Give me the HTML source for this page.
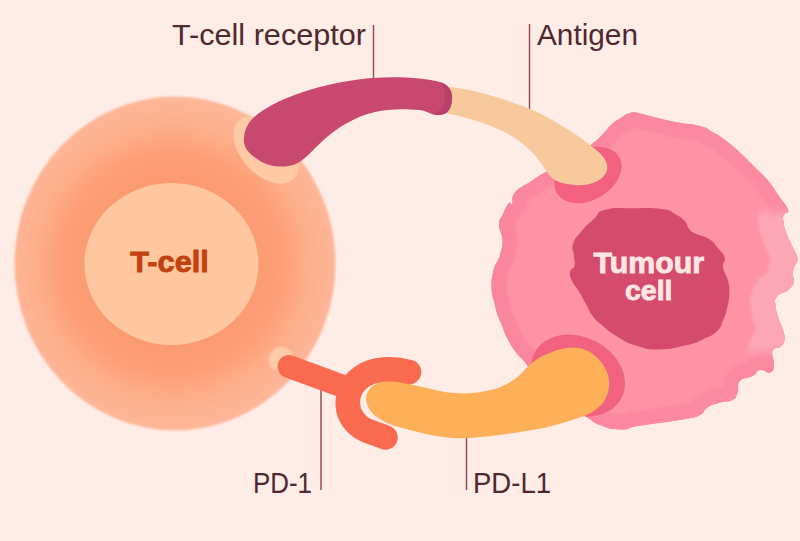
<!DOCTYPE html>
<html>
<head>
<meta charset="utf-8">
<title>T-cell and tumour cell</title>
<style>
html,body{margin:0;padding:0;background:#feece7;}
body{width:800px;height:541px;overflow:hidden;font-family:"Liberation Sans",sans-serif;}
svg{display:block;}
text{font-family:"Liberation Sans",sans-serif;}
</style>
</head>
<body>
<svg width="800" height="541" viewBox="0 0 800 541">
<defs>
  <radialGradient id="tg" cx="172" cy="263.5" r="166" gradientUnits="userSpaceOnUse">
    <stop offset="0.50" stop-color="#fc9b71"/>
    <stop offset="0.66" stop-color="#fd9f77"/>
    <stop offset="0.80" stop-color="#feac88"/>
    <stop offset="0.92" stop-color="#feb393"/>
    <stop offset="1" stop-color="#feb798"/>
  </radialGradient>
  <filter id="b1" x="-10%" y="-10%" width="120%" height="120%"><feGaussianBlur stdDeviation="1"/></filter>
  <linearGradient id="rimg" x1="490" y1="0" x2="800" y2="0" gradientUnits="userSpaceOnUse">
    <stop offset="0" stop-color="#fa869c"/>
    <stop offset="1" stop-color="#fb8aa0"/>
  </linearGradient>
  <mask id="rm" maskUnits="userSpaceOnUse" x="700" y="150" width="120" height="260"><rect x="745" y="212" width="70" height="140" fill="#fff" filter="url(#b5)"/></mask>
  <filter id="b5" x="-30%" y="-30%" width="160%" height="160%"><feGaussianBlur stdDeviation="5"/></filter>
  <filter id="b2" x="-10%" y="-10%" width="120%" height="120%"><feGaussianBlur stdDeviation="1.5"/></filter>
  <filter id="b3" x="-10%" y="-10%" width="120%" height="120%"><feGaussianBlur stdDeviation="3"/></filter>
  <clipPath id="tumclip"><path d="M592.0,144.0 C600.8,137.1 597.7,139.3 603.0,134.0 C608.3,128.7 607.5,128.1 612.0,124.0 C616.5,119.9 615.2,121.4 620.0,118.5 C624.8,115.6 624.7,114.3 630.0,113.0 C635.3,111.7 634.7,112.7 640.0,113.5 C645.3,114.3 640.7,113.7 650.0,116.0 C659.3,118.3 661.7,119.3 675.0,122.0 C688.3,124.7 690.0,123.3 700.0,126.0 C710.0,128.7 705.8,128.3 712.5,132.0 C719.2,135.7 717.7,134.5 725.0,140.0 C732.3,145.5 732.0,145.2 740.0,152.5 C748.0,159.8 747.6,160.2 755.0,167.5 C762.4,174.8 761.3,172.5 767.6,180.0 C773.9,187.5 773.2,187.8 778.6,195.7 C784.0,203.6 786.5,204.5 788.0,209.5 C789.5,214.5 785.6,211.6 784.3,214.6 C783.0,217.6 782.7,215.9 783.3,220.9 C783.9,225.9 784.0,226.4 786.5,233.5 C789.0,240.6 789.9,240.9 792.8,247.6 C795.7,254.3 797.1,253.6 797.5,258.6 C797.9,263.6 795.6,262.3 794.3,266.5 C793.0,270.7 793.0,270.1 792.8,274.3 C792.6,278.5 795.0,278.0 793.7,282.2 C792.4,286.4 792.5,286.2 788.0,290.0 C783.5,293.8 780.3,292.2 777.0,296.4 C773.7,300.6 775.1,299.9 775.5,305.8 C775.9,311.7 776.5,311.7 778.6,318.4 C780.7,325.1 781.8,325.0 783.3,330.9 C784.8,336.8 785.1,336.2 784.3,340.4 C783.5,344.6 783.3,343.9 780.2,346.7 C777.1,349.5 774.2,346.1 772.5,351.0 C770.8,355.9 774.7,359.3 774.0,365.0 C773.3,370.7 773.7,371.2 770.0,372.5 C766.3,373.8 764.7,369.1 760.0,370.0 C755.3,370.9 757.8,373.1 752.5,376.0 C747.2,378.9 744.0,376.6 740.0,381.0 C736.0,385.4 739.5,387.4 737.5,392.5 C735.5,397.6 737.2,397.3 732.5,400.0 C727.8,402.7 726.7,400.5 720.0,402.5 C713.3,404.5 712.8,404.2 707.5,407.5 C702.2,410.8 706.0,411.9 700.0,415.0 C694.0,418.1 695.0,417.0 685.0,419.0 C675.0,421.0 675.2,420.6 662.5,422.5 C649.8,424.4 648.8,424.1 637.5,426.0 C626.2,427.9 630.0,429.8 620.0,429.5 C610.0,429.2 609.3,428.6 600.0,425.0 C590.7,421.4 595.7,422.7 585.0,416.0 C574.3,409.3 573.3,410.9 560.0,400.0 C546.7,389.1 544.6,385.4 535.0,375.0 C525.4,364.6 528.8,366.7 524.0,361.0 C519.2,355.3 521.4,359.7 517.0,353.8 C512.6,347.8 511.5,346.3 507.5,338.8 C503.5,331.2 504.5,331.7 502.0,325.6 C499.5,319.5 500.0,322.0 498.0,316.0 C496.0,310.0 496.1,310.5 494.4,303.0 C492.7,295.5 491.9,296.5 491.6,288.0 C491.3,279.5 491.7,278.5 493.4,271.0 C495.1,263.5 496.2,264.3 498.0,260.0 C499.8,255.7 498.8,260.3 500.0,255.0 C501.2,249.7 502.8,248.0 502.5,240.0 C502.2,232.0 499.0,231.7 499.0,225.0 C499.0,218.3 499.8,220.9 502.5,215.0 C505.2,209.1 506.5,205.9 509.0,203.0 C511.5,200.1 510.4,206.8 512.0,204.0 C513.6,201.2 510.2,198.4 515.0,192.5 C519.8,186.6 522.0,187.3 530.0,182.0 C538.0,176.7 534.3,178.4 545.0,172.5 C555.7,166.6 557.5,167.6 570.0,160.0 C582.5,152.4 583.2,150.9 592.0,144.0 Z"/></clipPath>
</defs>
<rect width="800" height="541" fill="#feece7"/>

<!-- T cell -->
<ellipse cx="175" cy="263.5" rx="160.5" ry="167" fill="url(#tg)" filter="url(#b1)"/>
<ellipse cx="266" cy="150" rx="40" ry="24.5" transform="rotate(47 266 150)" fill="#fecaa5"/>
<circle cx="281.5" cy="359.5" r="12.5" fill="#fecba9" filter="url(#b1)"/>
<ellipse cx="171.5" cy="264" rx="87" ry="81" fill="#fec7a0"/>
<text x="130.3" y="271.8" font-size="29.3" font-weight="bold" fill="#c2410f" stroke="#c2410f" stroke-width="0.8" textLength="78.5" lengthAdjust="spacingAndGlyphs">T-cell</text>

<!-- Tumour cell -->
<path d="M592.0,144.0 C600.8,137.1 597.7,139.3 603.0,134.0 C608.3,128.7 607.5,128.1 612.0,124.0 C616.5,119.9 615.2,121.4 620.0,118.5 C624.8,115.6 624.7,114.3 630.0,113.0 C635.3,111.7 634.7,112.7 640.0,113.5 C645.3,114.3 640.7,113.7 650.0,116.0 C659.3,118.3 661.7,119.3 675.0,122.0 C688.3,124.7 690.0,123.3 700.0,126.0 C710.0,128.7 705.8,128.3 712.5,132.0 C719.2,135.7 717.7,134.5 725.0,140.0 C732.3,145.5 732.0,145.2 740.0,152.5 C748.0,159.8 747.6,160.2 755.0,167.5 C762.4,174.8 761.3,172.5 767.6,180.0 C773.9,187.5 773.2,187.8 778.6,195.7 C784.0,203.6 786.5,204.5 788.0,209.5 C789.5,214.5 785.6,211.6 784.3,214.6 C783.0,217.6 782.7,215.9 783.3,220.9 C783.9,225.9 784.0,226.4 786.5,233.5 C789.0,240.6 789.9,240.9 792.8,247.6 C795.7,254.3 797.1,253.6 797.5,258.6 C797.9,263.6 795.6,262.3 794.3,266.5 C793.0,270.7 793.0,270.1 792.8,274.3 C792.6,278.5 795.0,278.0 793.7,282.2 C792.4,286.4 792.5,286.2 788.0,290.0 C783.5,293.8 780.3,292.2 777.0,296.4 C773.7,300.6 775.1,299.9 775.5,305.8 C775.9,311.7 776.5,311.7 778.6,318.4 C780.7,325.1 781.8,325.0 783.3,330.9 C784.8,336.8 785.1,336.2 784.3,340.4 C783.5,344.6 783.3,343.9 780.2,346.7 C777.1,349.5 774.2,346.1 772.5,351.0 C770.8,355.9 774.7,359.3 774.0,365.0 C773.3,370.7 773.7,371.2 770.0,372.5 C766.3,373.8 764.7,369.1 760.0,370.0 C755.3,370.9 757.8,373.1 752.5,376.0 C747.2,378.9 744.0,376.6 740.0,381.0 C736.0,385.4 739.5,387.4 737.5,392.5 C735.5,397.6 737.2,397.3 732.5,400.0 C727.8,402.7 726.7,400.5 720.0,402.5 C713.3,404.5 712.8,404.2 707.5,407.5 C702.2,410.8 706.0,411.9 700.0,415.0 C694.0,418.1 695.0,417.0 685.0,419.0 C675.0,421.0 675.2,420.6 662.5,422.5 C649.8,424.4 648.8,424.1 637.5,426.0 C626.2,427.9 630.0,429.8 620.0,429.5 C610.0,429.2 609.3,428.6 600.0,425.0 C590.7,421.4 595.7,422.7 585.0,416.0 C574.3,409.3 573.3,410.9 560.0,400.0 C546.7,389.1 544.6,385.4 535.0,375.0 C525.4,364.6 528.8,366.7 524.0,361.0 C519.2,355.3 521.4,359.7 517.0,353.8 C512.6,347.8 511.5,346.3 507.5,338.8 C503.5,331.2 504.5,331.7 502.0,325.6 C499.5,319.5 500.0,322.0 498.0,316.0 C496.0,310.0 496.1,310.5 494.4,303.0 C492.7,295.5 491.9,296.5 491.6,288.0 C491.3,279.5 491.7,278.5 493.4,271.0 C495.1,263.5 496.2,264.3 498.0,260.0 C499.8,255.7 498.8,260.3 500.0,255.0 C501.2,249.7 502.8,248.0 502.5,240.0 C502.2,232.0 499.0,231.7 499.0,225.0 C499.0,218.3 499.8,220.9 502.5,215.0 C505.2,209.1 506.5,205.9 509.0,203.0 C511.5,200.1 510.4,206.8 512.0,204.0 C513.6,201.2 510.2,198.4 515.0,192.5 C519.8,186.6 522.0,187.3 530.0,182.0 C538.0,176.7 534.3,178.4 545.0,172.5 C555.7,166.6 557.5,167.6 570.0,160.0 C582.5,152.4 583.2,150.9 592.0,144.0 Z" fill="#fe93a4"/>
<g clip-path="url(#tumclip)">
  <path d="M592.0,144.0 C600.8,137.1 597.7,139.3 603.0,134.0 C608.3,128.7 607.5,128.1 612.0,124.0 C616.5,119.9 615.2,121.4 620.0,118.5 C624.8,115.6 624.7,114.3 630.0,113.0 C635.3,111.7 634.7,112.7 640.0,113.5 C645.3,114.3 640.7,113.7 650.0,116.0 C659.3,118.3 661.7,119.3 675.0,122.0 C688.3,124.7 690.0,123.3 700.0,126.0 C710.0,128.7 705.8,128.3 712.5,132.0 C719.2,135.7 717.7,134.5 725.0,140.0 C732.3,145.5 732.0,145.2 740.0,152.5 C748.0,159.8 747.6,160.2 755.0,167.5 C762.4,174.8 761.3,172.5 767.6,180.0 C773.9,187.5 773.2,187.8 778.6,195.7 C784.0,203.6 786.5,204.5 788.0,209.5 C789.5,214.5 785.6,211.6 784.3,214.6 C783.0,217.6 782.7,215.9 783.3,220.9 C783.9,225.9 784.0,226.4 786.5,233.5 C789.0,240.6 789.9,240.9 792.8,247.6 C795.7,254.3 797.1,253.6 797.5,258.6 C797.9,263.6 795.6,262.3 794.3,266.5 C793.0,270.7 793.0,270.1 792.8,274.3 C792.6,278.5 795.0,278.0 793.7,282.2 C792.4,286.4 792.5,286.2 788.0,290.0 C783.5,293.8 780.3,292.2 777.0,296.4 C773.7,300.6 775.1,299.9 775.5,305.8 C775.9,311.7 776.5,311.7 778.6,318.4 C780.7,325.1 781.8,325.0 783.3,330.9 C784.8,336.8 785.1,336.2 784.3,340.4 C783.5,344.6 783.3,343.9 780.2,346.7 C777.1,349.5 774.2,346.1 772.5,351.0 C770.8,355.9 774.7,359.3 774.0,365.0 C773.3,370.7 773.7,371.2 770.0,372.5 C766.3,373.8 764.7,369.1 760.0,370.0 C755.3,370.9 757.8,373.1 752.5,376.0 C747.2,378.9 744.0,376.6 740.0,381.0 C736.0,385.4 739.5,387.4 737.5,392.5 C735.5,397.6 737.2,397.3 732.5,400.0 C727.8,402.7 726.7,400.5 720.0,402.5 C713.3,404.5 712.8,404.2 707.5,407.5 C702.2,410.8 706.0,411.9 700.0,415.0 C694.0,418.1 695.0,417.0 685.0,419.0 C675.0,421.0 675.2,420.6 662.5,422.5 C649.8,424.4 648.8,424.1 637.5,426.0 C626.2,427.9 630.0,429.8 620.0,429.5 C610.0,429.2 609.3,428.6 600.0,425.0 C590.7,421.4 595.7,422.7 585.0,416.0 C574.3,409.3 573.3,410.9 560.0,400.0 C546.7,389.1 544.6,385.4 535.0,375.0 C525.4,364.6 528.8,366.7 524.0,361.0 C519.2,355.3 521.4,359.7 517.0,353.8 C512.6,347.8 511.5,346.3 507.5,338.8 C503.5,331.2 504.5,331.7 502.0,325.6 C499.5,319.5 500.0,322.0 498.0,316.0 C496.0,310.0 496.1,310.5 494.4,303.0 C492.7,295.5 491.9,296.5 491.6,288.0 C491.3,279.5 491.7,278.5 493.4,271.0 C495.1,263.5 496.2,264.3 498.0,260.0 C499.8,255.7 498.8,260.3 500.0,255.0 C501.2,249.7 502.8,248.0 502.5,240.0 C502.2,232.0 499.0,231.7 499.0,225.0 C499.0,218.3 499.8,220.9 502.5,215.0 C505.2,209.1 506.5,205.9 509.0,203.0 C511.5,200.1 510.4,206.8 512.0,204.0 C513.6,201.2 510.2,198.4 515.0,192.5 C519.8,186.6 522.0,187.3 530.0,182.0 C538.0,176.7 534.3,178.4 545.0,172.5 C555.7,166.6 557.5,167.6 570.0,160.0 C582.5,152.4 583.2,150.9 592.0,144.0 Z" fill="none" stroke="url(#rimg)" stroke-width="30" filter="url(#b2)"/>
  <g mask="url(#rm)"><path d="M592.0,144.0 C600.8,137.1 597.7,139.3 603.0,134.0 C608.3,128.7 607.5,128.1 612.0,124.0 C616.5,119.9 615.2,121.4 620.0,118.5 C624.8,115.6 624.7,114.3 630.0,113.0 C635.3,111.7 634.7,112.7 640.0,113.5 C645.3,114.3 640.7,113.7 650.0,116.0 C659.3,118.3 661.7,119.3 675.0,122.0 C688.3,124.7 690.0,123.3 700.0,126.0 C710.0,128.7 705.8,128.3 712.5,132.0 C719.2,135.7 717.7,134.5 725.0,140.0 C732.3,145.5 732.0,145.2 740.0,152.5 C748.0,159.8 747.6,160.2 755.0,167.5 C762.4,174.8 761.3,172.5 767.6,180.0 C773.9,187.5 773.2,187.8 778.6,195.7 C784.0,203.6 786.5,204.5 788.0,209.5 C789.5,214.5 785.6,211.6 784.3,214.6 C783.0,217.6 782.7,215.9 783.3,220.9 C783.9,225.9 784.0,226.4 786.5,233.5 C789.0,240.6 789.9,240.9 792.8,247.6 C795.7,254.3 797.1,253.6 797.5,258.6 C797.9,263.6 795.6,262.3 794.3,266.5 C793.0,270.7 793.0,270.1 792.8,274.3 C792.6,278.5 795.0,278.0 793.7,282.2 C792.4,286.4 792.5,286.2 788.0,290.0 C783.5,293.8 780.3,292.2 777.0,296.4 C773.7,300.6 775.1,299.9 775.5,305.8 C775.9,311.7 776.5,311.7 778.6,318.4 C780.7,325.1 781.8,325.0 783.3,330.9 C784.8,336.8 785.1,336.2 784.3,340.4 C783.5,344.6 783.3,343.9 780.2,346.7 C777.1,349.5 774.2,346.1 772.5,351.0 C770.8,355.9 774.7,359.3 774.0,365.0 C773.3,370.7 773.7,371.2 770.0,372.5 C766.3,373.8 764.7,369.1 760.0,370.0 C755.3,370.9 757.8,373.1 752.5,376.0 C747.2,378.9 744.0,376.6 740.0,381.0 C736.0,385.4 739.5,387.4 737.5,392.5 C735.5,397.6 737.2,397.3 732.5,400.0 C727.8,402.7 726.7,400.5 720.0,402.5 C713.3,404.5 712.8,404.2 707.5,407.5 C702.2,410.8 706.0,411.9 700.0,415.0 C694.0,418.1 695.0,417.0 685.0,419.0 C675.0,421.0 675.2,420.6 662.5,422.5 C649.8,424.4 648.8,424.1 637.5,426.0 C626.2,427.9 630.0,429.8 620.0,429.5 C610.0,429.2 609.3,428.6 600.0,425.0 C590.7,421.4 595.7,422.7 585.0,416.0 C574.3,409.3 573.3,410.9 560.0,400.0 C546.7,389.1 544.6,385.4 535.0,375.0 C525.4,364.6 528.8,366.7 524.0,361.0 C519.2,355.3 521.4,359.7 517.0,353.8 C512.6,347.8 511.5,346.3 507.5,338.8 C503.5,331.2 504.5,331.7 502.0,325.6 C499.5,319.5 500.0,322.0 498.0,316.0 C496.0,310.0 496.1,310.5 494.4,303.0 C492.7,295.5 491.9,296.5 491.6,288.0 C491.3,279.5 491.7,278.5 493.4,271.0 C495.1,263.5 496.2,264.3 498.0,260.0 C499.8,255.7 498.8,260.3 500.0,255.0 C501.2,249.7 502.8,248.0 502.5,240.0 C502.2,232.0 499.0,231.7 499.0,225.0 C499.0,218.3 499.8,220.9 502.5,215.0 C505.2,209.1 506.5,205.9 509.0,203.0 C511.5,200.1 510.4,206.8 512.0,204.0 C513.6,201.2 510.2,198.4 515.0,192.5 C519.8,186.6 522.0,187.3 530.0,182.0 C538.0,176.7 534.3,178.4 545.0,172.5 C555.7,166.6 557.5,167.6 570.0,160.0 C582.5,152.4 583.2,150.9 592.0,144.0 Z" fill="none" stroke="#fda7b5" stroke-width="50" filter="url(#b2)"/></g>
</g>
<!-- patches -->
<ellipse cx="588" cy="175" rx="36" ry="25" transform="rotate(-30 588 175)" fill="#f2617f"/>
<ellipse cx="578" cy="375.5" rx="49" ry="38.5" transform="rotate(27 578 375.5)" fill="#f2617f"/>
<!-- nucleus -->
<path d="M605.3,209.8 C615.8,207.0 618.4,208.4 633.5,208.2 C648.6,208.0 650.5,207.4 661.8,209.1 C673.1,210.8 669.6,211.1 675.9,214.5 C682.2,217.9 681.9,218.1 685.3,221.7 C688.7,225.3 686.0,224.9 688.5,228.0 C691.0,231.1 689.4,230.4 694.8,233.3 C700.2,236.2 702.6,235.0 708.9,239.0 C715.2,243.0 714.1,243.4 718.3,248.4 C722.5,253.4 723.3,252.8 724.6,257.8 C725.9,262.8 722.2,261.3 723.0,267.2 C723.8,273.1 726.0,273.1 727.7,279.8 C729.4,286.5 729.5,284.9 729.3,292.4 C729.1,299.9 728.8,300.6 727.1,308.1 C725.4,315.6 725.8,314.3 723.0,320.6 C720.2,326.9 722.1,326.6 716.7,331.6 C711.3,336.6 710.5,335.9 702.6,339.5 C694.7,343.1 698.6,342.4 686.9,345.1 C675.2,347.8 672.0,349.3 658.6,349.5 C645.2,349.7 647.6,349.1 636.7,345.8 C625.8,342.5 627.0,342.5 617.8,337.0 C608.6,331.5 608.8,330.9 602.1,325.3 C595.4,319.7 596.9,321.3 592.7,315.9 C588.5,310.5 590.2,311.6 586.4,304.9 C582.6,298.2 582.4,297.1 578.6,290.8 C574.8,284.5 574.6,286.4 572.3,281.4 C570.0,276.4 569.5,276.1 570.1,271.9 C570.7,267.7 573.5,270.3 574.5,265.7 C575.5,261.1 574.1,260.6 573.8,254.7 C573.5,248.8 571.1,250.0 573.2,243.7 C575.3,237.4 576.1,237.8 581.7,231.1 C587.3,224.4 588.0,224.3 594.3,218.6 C600.6,212.9 594.8,212.6 605.3,209.8 Z" fill="#d44b6b"/>
<text x="593.5" y="272.7" font-size="30" font-weight="bold" fill="#fde6e3" stroke="#fde6e3" stroke-width="0.9" textLength="110.5" lengthAdjust="spacingAndGlyphs">Tumour</text>
<text x="625" y="300.3" font-size="27.5" font-weight="bold" fill="#fde6e3" stroke="#fde6e3" stroke-width="0.9" textLength="47.5" lengthAdjust="spacingAndGlyphs">cell</text>

<!-- leader lines -->
<g stroke="#914650" stroke-width="1.4" fill="none">
  <line x1="373.5" y1="25" x2="373.5" y2="82"/>
  <line x1="529.5" y1="24" x2="529.5" y2="110"/>
  <line x1="321" y1="388" x2="321" y2="490"/>
  <line x1="466.5" y1="434" x2="466.5" y2="490"/>
</g>

<!-- Antigen -->
<path d="M438,86 C455,87 470,90 480,92.5 C500,98 515,103 530,109 C545,115 568,129 580,137.5 C590,145 600,152 604,158 C609,165 608,172 603,177 C597,183 586,186 575,185 C566,184 560,183 555,180 C549,176 546,170 542,165 C535,153 520,140 505,132.5 C490,125 470,117 438,112 Z" fill="#f8c99d"/>

<!-- TCR -->
<path d="M244,138 C245,126 250,119 262,111 C290,93 330,82 372,78 C398,76 425,78 440,82 C449,85 453,92 452,100 C451,110 447,114 440,115 C432,116 428,111 420,110 C402,108.5 388,109 375,112 C357,116 340,126 327,137 C315,147 308,157 298,163 C285,169 270,167 260,161 C249,154 243,148 244,138 Z" fill="#c9486f"/>
<path d="M441,82.3 C449,85 453,92 452,100 C451,110 447,114.5 440,115 C437,115.2 435,114.7 433,113.8 C444,112 449.5,96 441,82.3 Z" fill="#b8406a"/>
<!-- PD-L1 -->
<path d="M366,398 C367,388 376,381 390,381 C405,382 425,388 445,392 C465,395 480,393 495,389 C505,386 515,380 522,373 C530,364 537,358 545,355 C557,349 570,346 580,348 C592,351 602,360 607,372 C611,383 609,395 603,403 C596,411 588,415 578,418 C560,424 545,428 532,430 C515,433 495,436 470,438 C445,440 420,433 395,426 C380,421 366,412 366,398 Z" fill="#fdb058"/>

<!-- PD-1 -->
<g stroke="#fa6a4e" fill="none" stroke-linecap="round">
  <line x1="289" y1="366.5" x2="350" y2="389" stroke-width="23"/>
  <path d="M409,372 C400,369.5 392,369 384,369.5 C367,370.5 352,380 348.5,396 C346,408 350,418 358.5,425.5 C366,432 376,433.5 385.5,437.5" stroke-width="24.5"/>
</g>

<!-- labels -->
<g fill="#50282f" font-size="29">
  <text x="172" y="45" textLength="194" lengthAdjust="spacingAndGlyphs">T-cell receptor</text>
  <text x="537" y="45" textLength="101" lengthAdjust="spacingAndGlyphs">Antigen</text>
  <text x="253" y="493" textLength="59" lengthAdjust="spacingAndGlyphs">PD-1</text>
  <text x="473" y="492.5" textLength="78" lengthAdjust="spacingAndGlyphs">PD-L1</text>
</g>
</svg>
</body>
</html>
